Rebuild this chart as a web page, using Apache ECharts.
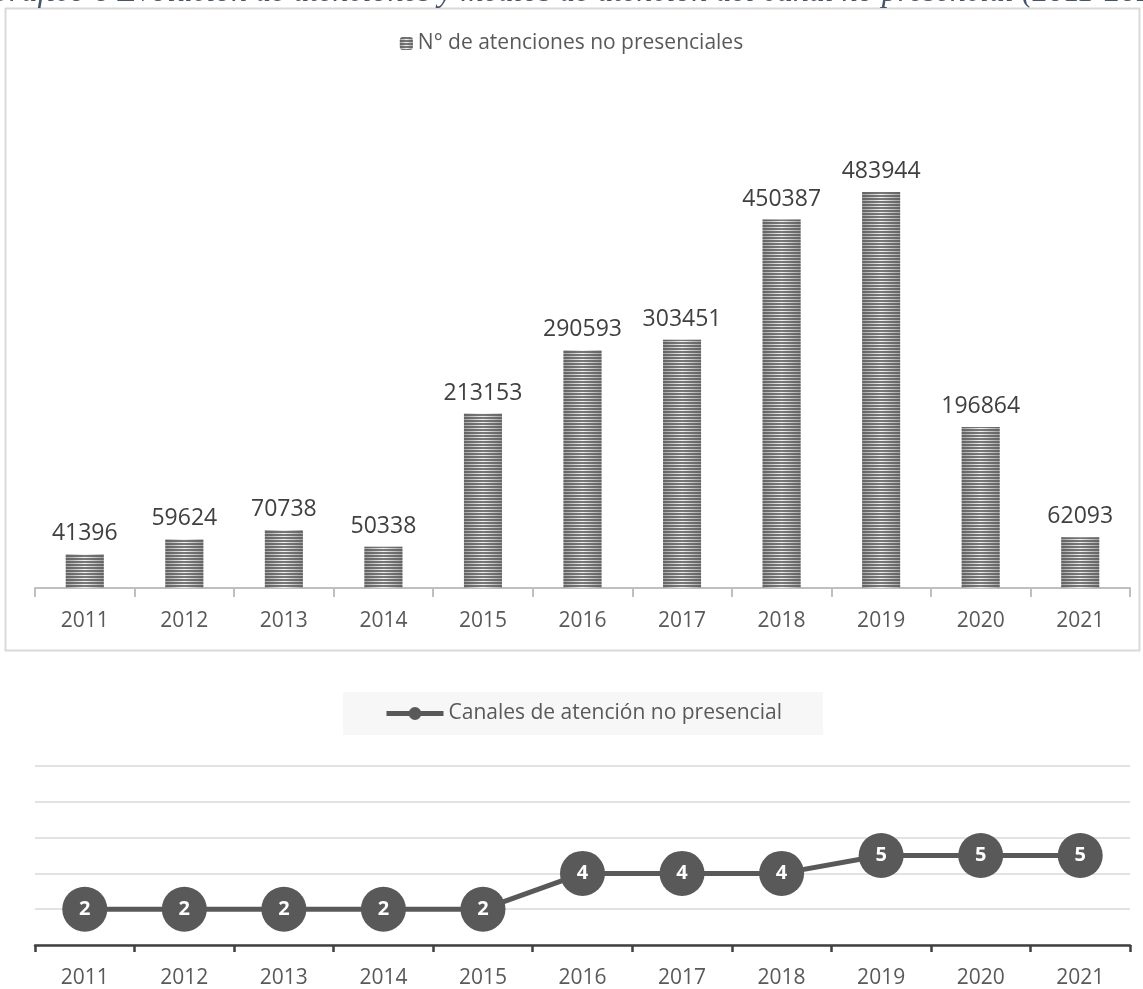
<!DOCTYPE html>
<html>
<head>
<meta charset="utf-8">
<script src="https://cdn.jsdelivr.net/npm/echarts@6/dist/echarts.min.js"></script>
<style>
html,body{margin:0;padding:0;background:#fff;}
#c{width:1143px;height:989px;}
</style>
</head>
<body>
<div id="c"></div>
<script>
const years = ['2011','2012','2013','2014','2015','2016','2017','2018','2019','2020','2021'];
const atenciones = [41396, 59624, 70738, 50338, 213153, 290593, 303451, 450387, 483944, 196864, 62093];
const canales = [2, 2, 2, 2, 2, 4, 4, 4, 5, 5, 5];
const titleText = 'Gráfico 6 Evolución de atenciones y medios de atención del canal no presencial (2011-2021)';
const barName = 'N° de atenciones no presenciales';
const lineName = 'Canales de atención no presencial';

const FONT = '"Open Sans", "Liberation Sans", sans-serif';
const chart = echarts.init(document.getElementById('c'), null, {renderer: 'canvas'});

const barFill = {
  type: 'linear', x: 0, y: 0, x2: 1, y2: 0,
  colorStops: [
    {offset: 0, color: '#a0a0a0'},
    {offset: 0.5, color: '#f2f2f2'},
    {offset: 1, color: '#a0a0a0'}
  ]
};

chart.setOption({
  animation: false,
  backgroundColor: '#ffffff',
  graphic: [
    {
      type: 'rect', silent: true, z: -1,
      shape: {x: 5.5, y: 8.5, width: 1134, height: 642},
      style: {fill: 'none', stroke: '#d9d9d9', lineWidth: 2}
    },
    {
      type: 'text', silent: true,
      style: {
        text: titleText, x: -14, y: 9,
        verticalAlign: 'bottom', align: 'left',
        font: 'italic 32px "Liberation Serif", "DejaVu Serif", serif',
        fill: '#44546a'
      }
    }
  ],
  legend: [
    {
      data: [barName],
      left: 'center', top: 33,
      itemWidth: 13, itemHeight: 13, itemGap: 6,
      textStyle: {fontFamily: FONT, fontSize: 21, color: '#595959'},
      padding: 0
    },
    {
      data: [lineName],
      left: 343, top: 692,
      backgroundColor: '#f7f7f7',
      padding: [11, 41, 11, 41],
      itemWidth: 57, itemHeight: 16, itemGap: 3,
      lineStyle: {width: 5, color: '#595959'},
      textStyle: {fontFamily: FONT, fontSize: 21, color: '#595959'}
    }
  ],
  grid: [
    {left: 35, right: 13, top: 138, bottom: 401, containLabel: false},
    {left: 35, right: 13, top: 766, bottom: 39, containLabel: false}
  ],
  xAxis: [
    {
      type: 'category', gridIndex: 0, data: years,
      axisLine: {lineStyle: {color: '#bfbfbf', width: 2}},
      axisTick: {show: true, length: 9, lineStyle: {color: '#bfbfbf', width: 2}},
      axisLabel: {fontFamily: FONT, fontSize: 21, color: '#595959', margin: 23}
    },
    {
      type: 'category', gridIndex: 1, data: years,
      axisLine: {lineStyle: {color: '#404040', width: 2.5}},
      axisTick: {show: true, length: 7, lineStyle: {color: '#404040', width: 2.5}},
      axisLabel: {fontFamily: FONT, fontSize: 21, color: '#595959', margin: 23}
    }
  ],
  yAxis: [
    {
      type: 'value', gridIndex: 0, min: 0, max: 550000,
      show: false, splitLine: {show: false}
    },
    {
      type: 'value', gridIndex: 1, min: 0, max: 10, interval: 2,
      axisLabel: {show: false}, axisLine: {show: false}, axisTick: {show: false},
      splitLine: {show: true, lineStyle: {color: '#d9d9d9', width: 1.5}}
    }
  ],
  series: [
    {
      name: barName, type: 'bar', xAxisIndex: 0, yAxisIndex: 0,
      data: atenciones, barWidth: 38,
      itemStyle: {
        color: barFill,
        decal: {
          symbol: 'rect', symbolSize: 1,
          dashArrayX: [1, 0], dashArrayY: [2, 1],
          rotation: 0, color: 'rgba(80,80,80,0.75)'
        }
      },
      label: {
        show: true, position: 'top', distance: 9,
        fontFamily: FONT, fontSize: 23, color: '#404040'
      }
    },
    {
      name: lineName, type: 'line', xAxisIndex: 1, yAxisIndex: 1,
      data: canales,
      symbol: 'circle', symbolSize: 45,
      itemStyle: {color: '#595959'},
      lineStyle: {color: '#595959', width: 5},
      label: {
        show: true, position: 'inside',
        fontFamily: FONT, fontSize: 20, fontWeight: 'bold', color: '#ffffff'
      }
    }
  ]
});
</script>
</body>
</html>
